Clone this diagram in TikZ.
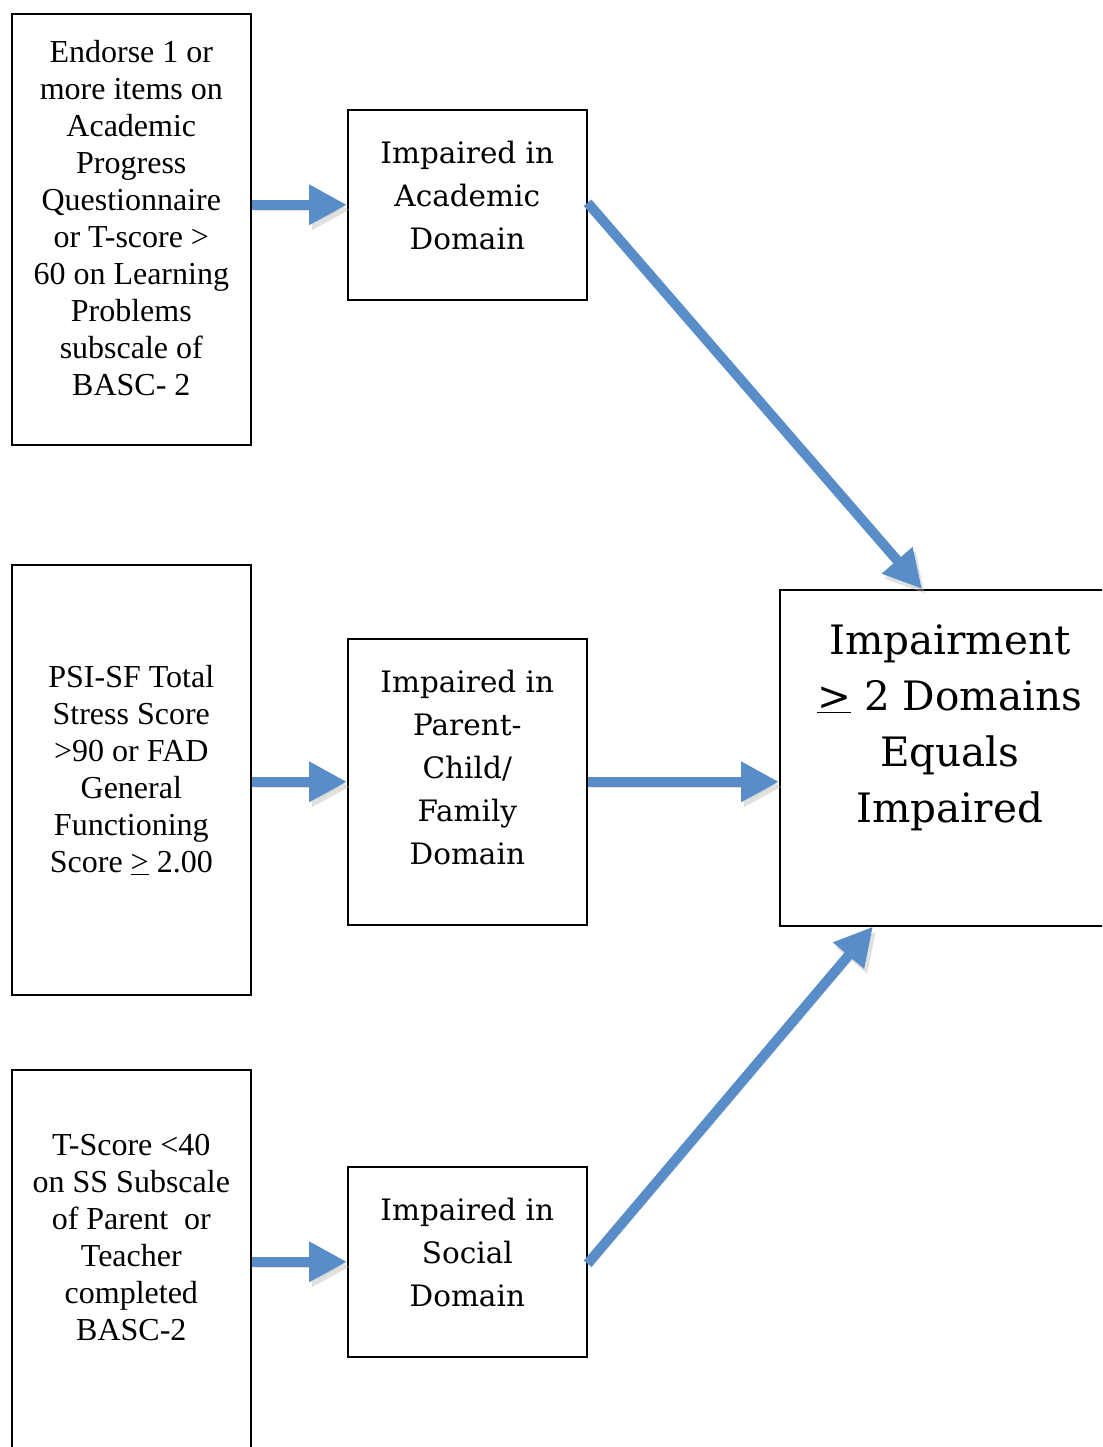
\documentclass[tikz,border=0pt]{standalone}
\usepackage{fontspec}
\setmainfont{Liberation Serif}
\newfontfamily\domainfont{DejaVu Serif}
\usepackage{tikz}
\usetikzlibrary{arrows.meta}
\definecolor{arrowblue}{RGB}{88,141,200}
\newcommand{\boxtxt}[4]{\parbox[t][#2][t]{#1}{\centering\vspace*{#3}#4\par}}

\begin{document}
\begin{tikzpicture}[x=1pt,y=1pt,
  crit/.style={draw, line width=1.6pt, inner sep=0pt, anchor=north west, font={\fontsize{32}{37}\selectfont}},
  dom/.style={draw, line width=1.6pt, inner sep=0pt, anchor=north west, font={\domainfont\fontsize{29.5}{43}\selectfont}},
  result/.style={draw, line width=1.6pt, inner sep=0pt, anchor=north west, font={\domainfont\fontsize{40.5}{56}\selectfont}},
  flow/.style={draw=arrowblue, line width=10pt, -{Triangle[length=38pt,width=38pt]},
    preaction={draw=black!30, opacity=0.4, transform canvas={shift={(3pt,-5pt)}}}}]
\useasboundingbox (0,0) rectangle (1102,1447);
\clip (0,0) rectangle (1102,1447);

% criteria
\node at (11,1434) (acadcrit)[crit]{\boxtxt{239pt}{431pt}{27pt}{Endorse 1 or\\ more items on\\ Academic\\ Progress\\ Questionnaire\\ or T-score >\\ 60 on Learning\\ Problems\\ subscale of\\ BASC- 2}};
\node at (11,883) (famcrit)[crit]{\boxtxt{239pt}{430pt}{101pt}{PSI-SF Total\\ Stress Score\\ >90 or FAD\\ General\\ Functioning\\ Score \underline{>} 2.00}};
\node at (11,378) (soccrit)[crit]{\boxtxt{239pt}{430pt}{64pt}{T-Score <40\\ on SS Subscale\\ of Parent\ \ or\\ Teacher\\ completed\\ BASC-2}};

% domains
\node at (347,1338) (acad)[dom]{\boxtxt{239pt}{190pt}{31pt}{Impaired in\\ Academic\\ Domain}};
\node at (347,809) (fam)[dom]{\boxtxt{239pt}{286pt}{31pt}{Impaired in\\ Parent-\\ Child/\\ Family\\ Domain}};
\node at (347,281) (soc)[dom]{\boxtxt{239pt}{190pt}{31pt}{Impaired in\\ Social\\ Domain}};

\node at (779,858) (impair)[result]{\boxtxt{340pt}{336pt}{35pt}{Impairment\\ \underline{>} 2 Domains\\ Equals\\ Impaired}};

\draw[flow] (acadcrit.east |- acad.west) -- (acad.west);
\draw[flow] (famcrit.east |- fam.west) -- (fam.west);
\draw[flow] (soccrit.east |- soc.west) -- (soc.west);

\draw[flow] ([yshift=2pt]acad.east) -- ([xshift=143pt]impair.north west);
\draw[flow] (fam.east) -- (impair.west |- fam.east);
\draw[flow] ([yshift=-2pt]soc.east) -- ([xshift=94pt]impair.south west);
\end{tikzpicture}
\end{document}
